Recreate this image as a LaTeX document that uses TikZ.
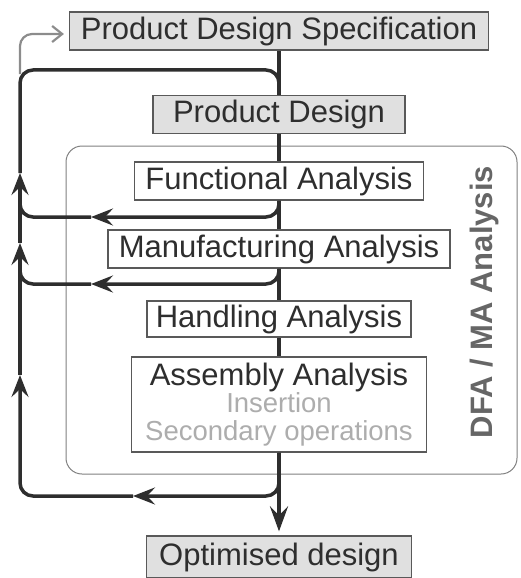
\documentclass[tikz,border=0pt]{standalone}
\usepackage{fontspec}
\setmainfont{Liberation Sans}
\usetikzlibrary{arrows.meta}
\definecolor{ink}{gray}{0.18}
\definecolor{boxline}{gray}{0.35}
\definecolor{boxgrey}{gray}{0.88}
\definecolor{framegrey}{gray}{0.5}
\definecolor{labelgrey}{gray}{0.4}
\definecolor{palegrey}{gray}{0.68}
\definecolor{specgrey}{gray}{0.55}
\newcommand\boxfont{\fontsize{31}{34}\selectfont}
\newcommand\subfont{\fontsize{27.5}{27.5}\selectfont}
\tikzset{greybox/.style={draw=boxline, fill=boxgrey, line width=1.2pt, minimum height=38pt, inner sep=0pt, text=ink, font=\boxfont},
  whitebox/.style={greybox, fill=white},
  mainline/.style={draw=ink, line width=4pt},
  backline/.style={draw=ink, line width=3.5pt, rounded corners=13pt},
  tipped/.style={backline, -{Stealth[length=22pt, width=17pt, inset=8pt]}}}

\begin{document}
\begin{tikzpicture}[x=1pt, y=-1pt]
  \useasboundingbox (0,0) rectangle (521,578);
  \draw[framegrey, line width=1pt, rounded corners=16pt] (66,146) rectangle (517,474);
  \node[rotate=90, font=\bfseries\boxfont, text=labelgrey] (dfalabel) at (484,302) {DFA / MA Analysis};

  \node[greybox, minimum width=419pt] (pds) at (279,31) {Product Design Specification};
  \node[greybox, minimum width=252pt] (pd) at (279,114.5) {Product Design};
  \node[whitebox, minimum width=289pt] (fa) at (279,181) {Functional Analysis};
  \node[whitebox, minimum width=342pt] (ma) at (279,249) {Manufacturing Analysis};
  \node[whitebox, minimum width=264pt, minimum height=36pt] (ha) at (279,319) {Handling Analysis};
  \node[whitebox, minimum width=295pt, minimum height=95pt, align=center] (asm) at (279,404.5)
    {Assembly Analysis\\[-7pt]{\color{palegrey}\subfont Insertion}\\[-6pt]{\color{palegrey}\subfont Secondary operations}};
  \node[greybox, minimum width=265pt, minimum height=42pt] (od) at (279,557) {Optimised design};

  % corners of the outer loop
  \coordinate (br) at (279,496);
  \coordinate (bl) at (20,496);
  \coordinate (tl) at (20,70);
  \coordinate (tr) at (279,70);
  % arrow tips along the loop
  \coordinate (a1) at (133,496);
  \coordinate (a2) at (20,375);
  \coordinate (a3) at (20,243);
  \coordinate (a4) at (20,173);
  \coordinate (gs) at (20,74);
  \coordinate (b1) at (91,217);
  \coordinate (b2) at (91,284);
  \coordinate (f1) at (20,200);
  \coordinate (f2) at (20,267);

  % main flow
  \draw[mainline] (pds) -- (pd);
  \draw[mainline] (pd) -- (fa);
  \draw[mainline] (fa) -- (ma);
  \draw[mainline] (ma) -- (ha);
  \draw[mainline] (ha) -- (asm);
  \draw[mainline, -{Stealth[length=25pt, width=18pt, inset=9pt]}, shorten >=4pt] (asm) -- (od);

  % feedback
  \draw[specgrey, line width=2.2pt, rounded corners=12pt, -{Straight Barb[length=10pt, width=16pt]}, shorten >=5pt]
    (gs) |- ([yshift=-3pt]pds.west);
  \draw[tipped] (asm.south) -- (br) -- (a1);
  \draw[tipped] (a1) -- (bl) -- (a2);
  \draw[tipped] (a2) -- (a3);
  \draw[tipped] (a3) -- (a4);
  \draw[backline] (a4) -- (tl) -- (tr) -- (pd.north);
  \draw[tipped] (fa.south) |- (b1);
  \draw[backline] (b1) -- (20,217) -- (f1);
  \draw[tipped] (ma.south) |- (b2);
  \draw[backline] (b2) -- (20,284) -- (f2);
\end{tikzpicture}
\end{document}
